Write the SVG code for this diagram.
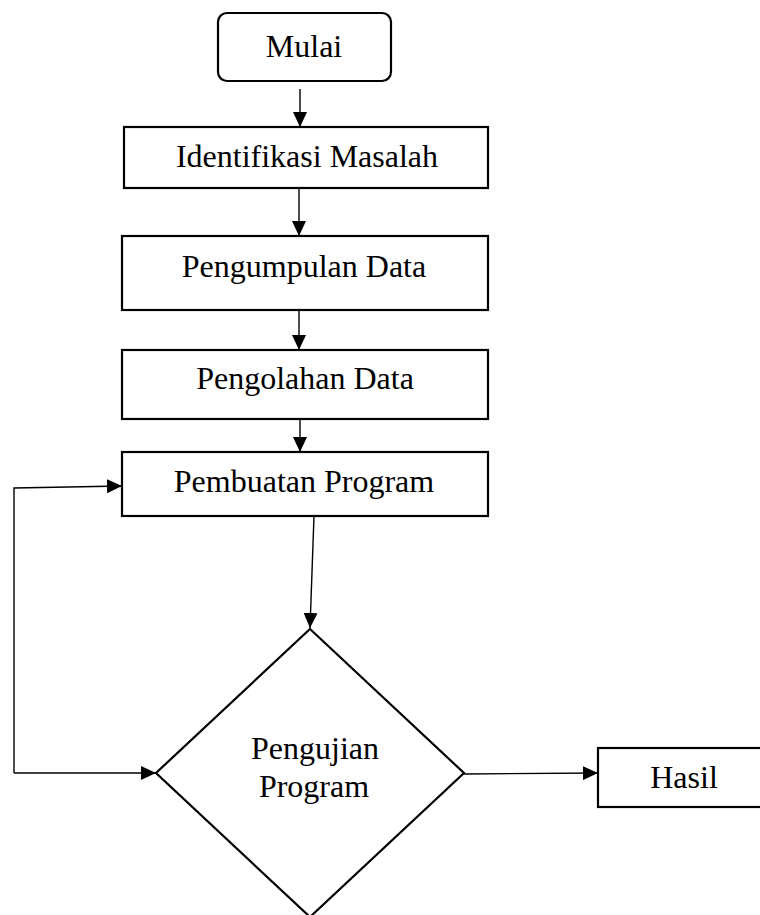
<svg xmlns="http://www.w3.org/2000/svg" width="760" height="915" viewBox="0 0 760 915">
  <style>
    .box { fill: #fff; stroke: #000; stroke-width: 2.2; }
    .lbl { font-family: "Liberation Serif", "Times New Roman", serif; font-size: 32px; fill: #000; text-anchor: middle; }
    .edge { fill: none; stroke: #000; stroke-width: 1.4; }
  </style>
  <defs>
    <marker id="arrow" markerUnits="userSpaceOnUse" markerWidth="15" markerHeight="14" refX="15" refY="7" orient="auto">
      <path d="M0,0 L15,7 L0,14 z" fill="#000"/>
    </marker>
  </defs>

  <rect width="760" height="915" fill="#fff"/>

  <!-- connectors -->
  <g id="connectors">
    <line class="edge" x1="300" y1="89" x2="300" y2="127" marker-end="url(#arrow)"/>
    <line class="edge" x1="299" y1="188" x2="299" y2="236" marker-end="url(#arrow)"/>
    <line class="edge" x1="299" y1="310" x2="299" y2="350" marker-end="url(#arrow)"/>
    <line class="edge" x1="300" y1="419" x2="300" y2="452" marker-end="url(#arrow)"/>
    <line class="edge" x1="314" y1="516" x2="310" y2="628" marker-end="url(#arrow)"/>
    <polyline class="edge" points="14,773 14,488 122,486" marker-end="url(#arrow)"/>
    <line class="edge" x1="14" y1="773" x2="156" y2="773" marker-end="url(#arrow)"/>
    <line class="edge" x1="464" y1="774" x2="598" y2="773" marker-end="url(#arrow)"/>
  </g>

  <g id="mulai">
    <rect class="box" x="218" y="13" width="173" height="68" rx="9" ry="9"/>
    <text class="lbl" x="304" y="57">Mulai</text>
  </g>

  <g id="identifikasi">
    <rect class="box" x="124" y="127" width="364" height="61"/>
    <text class="lbl" x="307" y="167">Identifikasi Masalah</text>
  </g>

  <g id="pengumpulan">
    <rect class="box" x="122" y="236" width="366" height="74"/>
    <text class="lbl" x="304" y="277">Pengumpulan Data</text>
  </g>

  <g id="pengolahan">
    <rect class="box" x="122" y="350" width="366" height="69"/>
    <text class="lbl" x="305" y="389">Pengolahan Data</text>
  </g>

  <g id="pembuatan">
    <rect class="box" x="122" y="452" width="366" height="64"/>
    <text class="lbl" x="304" y="492">Pembuatan Program</text>
  </g>

  <g id="pengujian">
    <polygon class="box" points="310,629 464,773 310,917 156,773"/>
    <text class="lbl" x="315" y="759">Pengujian</text>
    <text class="lbl" x="314" y="797">Program</text>
  </g>

  <g id="hasil">
    <rect class="box" x="598" y="748" width="166" height="59"/>
    <text class="lbl" x="684" y="788">Hasil</text>
  </g>
</svg>
